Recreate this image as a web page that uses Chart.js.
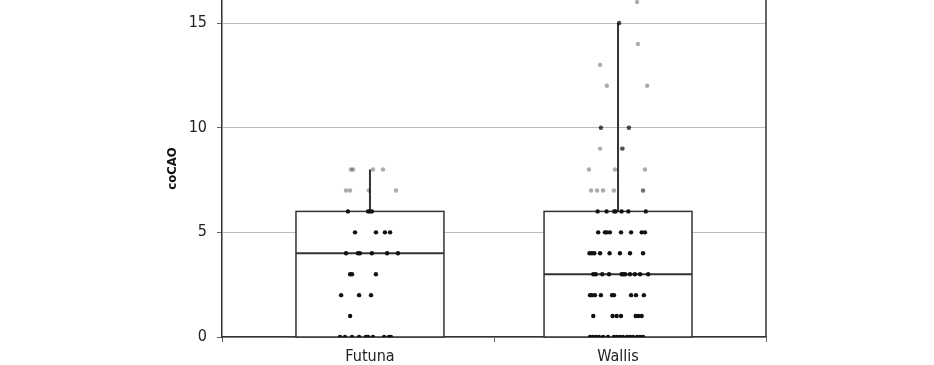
<!DOCTYPE html>
<html>
<head>
<meta charset="utf-8">
<script src="https://cdn.jsdelivr.net/npm/chart.js@4"></script>
<style>
  html, body { margin: 0; padding: 0; background: #fff; }
  #wrap { width: 934px; height: 365px; }
</style>
</head>
<body>
<div id="wrap"><canvas id="chart"></canvas></div>
<script>
// catégories et statistiques des boîtes
const categories = ['Futuna', 'Wallis'];
const catCenter = [0.544, 1.456];
const q1 = [0, 0];
const median = [4, 3];
const q3 = [6, 6];
const whiskerTop = [8, 15];
const yTicks = [0, 5, 10, 15];

// points individuels (valeur, position x avec dispersion)
const futunaY = [8, 8, 8, 8,
  7, 7, 7, 7,
  6, 6, 6, 6,
  5, 5, 5, 5,
  4, 4, 4, 4, 4, 4,
  3, 3, 3,
  2, 2, 2,
  1,
  0, 0, 0, 0, 0, 0, 0, 0, 0, 0];
const futunaX = [0.474, 0.482, 0.555, 0.592,
  0.456, 0.471, 0.540, 0.640,
  0.463, 0.537, 0.544, 0.551,
  0.489, 0.566, 0.599, 0.618,
  0.456, 0.500, 0.507, 0.551, 0.607, 0.647,
  0.471, 0.478, 0.566,
  0.438, 0.504, 0.548,
  0.471,
  0.434, 0.452, 0.478, 0.504, 0.529, 0.537, 0.555, 0.596, 0.614, 0.621];

const wallisY = [16, 15, 15, 15, 14, 13, 12, 12,
  10, 10, 10, 10, 10, 10,
  9, 9, 9, 9,
  8, 8, 8,
  7, 7, 7, 7, 7, 7,
  6, 6, 6, 6, 6, 6, 6,
  5, 5, 5, 5, 5, 5, 5, 5,
  4, 4, 4, 4, 4, 4, 4, 4,
  3, 3, 3, 3, 3, 3, 3, 3, 3, 3, 3,
  2, 2, 2, 2, 2, 2, 2, 2, 2,
  1, 1, 1, 1, 1, 1, 1,
  0, 0, 0, 0, 0, 0, 0, 0, 0, 0, 0, 0, 0, 0, 0, 0];
const wallisX = [1.526, 1.460, 1.460, 1.460, 1.529, 1.390, 1.415, 1.563,
  1.393, 1.393, 1.393, 1.496, 1.496, 1.496,
  1.390, 1.471, 1.471, 1.474,
  1.349, 1.445, 1.555,
  1.357, 1.379, 1.401, 1.441, 1.548, 1.548,
  1.381, 1.414, 1.442, 1.447, 1.469, 1.494, 1.558,
  1.383, 1.408, 1.414, 1.426, 1.467, 1.504, 1.543, 1.555,
  1.351, 1.360, 1.369, 1.390, 1.425, 1.463, 1.500, 1.548,
  1.365, 1.374, 1.398, 1.423, 1.469, 1.475, 1.482, 1.500, 1.518, 1.537, 1.567,
  1.353, 1.360, 1.371, 1.393, 1.434, 1.441, 1.504, 1.522, 1.551,
  1.365, 1.436, 1.451, 1.467, 1.521, 1.531, 1.543,
  1.353, 1.364, 1.375, 1.386, 1.401, 1.419, 1.441, 1.452, 1.463, 1.474, 1.489, 1.500, 1.511, 1.526, 1.537, 1.548];

const boxHalf = 0.272;
const fontFamily = "'Liberation Sans Narrow', 'DejaVu Sans Condensed', sans-serif";

// séparer les points dans la boîte (noirs) et hors boîte (gris)
const inner = [];
const outer = [];
[[futunaX, futunaY, 0], [wallisX, wallisY, 1]].forEach(([xs, ys, g]) => {
  ys.forEach((v, i) => {
    const p = { x: xs[i], y: v };
    if (v <= q3[g]) inner.push(p); else outer.push(p);
  });
});

// dessin des boîtes à moustaches
const boxPlugin = {
  id: 'boxes',
  beforeDatasetsDraw(chart) {
    const { ctx, chartArea, scales: { x, y } } = chart;
    ctx.save();
    // bordure droite
    ctx.strokeStyle = '#333';
    ctx.lineWidth = 1.5;
    ctx.beginPath();
    ctx.moveTo(chartArea.right, chartArea.top);
    ctx.lineTo(chartArea.right, chartArea.bottom);
    ctx.stroke();

    categories.forEach((c, i) => {
      const l = x.getPixelForValue(catCenter[i] - boxHalf);
      const r = x.getPixelForValue(catCenter[i] + boxHalf);
      const cx = x.getPixelForValue(catCenter[i]);
      const top = y.getPixelForValue(q3[i]);
      const bot = y.getPixelForValue(q1[i]);
      const med = y.getPixelForValue(median[i]);
      const wt = y.getPixelForValue(whiskerTop[i]);

      ctx.fillStyle = '#fff';
      ctx.fillRect(l, top, r - l, bot - top);
      ctx.strokeStyle = '#333';
      ctx.lineWidth = 1.5;
      ctx.strokeRect(l, top, r - l, bot - top);

      ctx.lineWidth = 2;
      ctx.beginPath();
      ctx.moveTo(l, med);
      ctx.lineTo(r, med);
      ctx.moveTo(cx, top);
      ctx.lineTo(cx, wt);
      ctx.stroke();
    });
    ctx.restore();
  }
};

const xTickValues = [0, catCenter[0], 1, catCenter[1], 2];
const xTickLabels = ['', categories[0], '', categories[1], ''];

new Chart(document.getElementById('chart'), {
  type: 'scatter',
  data: {
    datasets: [{
      data: inner,
      backgroundColor: '#111',
      pointRadius: 2.2,
      pointBorderWidth: 0
    }, {
      data: outer,
      backgroundColor: 'rgba(0, 0, 0, 0.33)',
      pointRadius: 2.2,
      pointBorderWidth: 0
    }]
  },
  options: {
    responsive: true,
    maintainAspectRatio: false,
    animation: false,
    layout: { autoPadding: false, padding: { left: 161, right: 168, top: 0, bottom: 0 } },
    plugins: {
      legend: { display: false },
      tooltip: { enabled: false }
    },
    scales: {
      x: {
        type: 'linear',
        min: 0,
        max: 2,
        afterBuildTicks: (scale) => {
          scale.ticks = xTickValues.map(v => ({ value: v }));
        },
        afterFit: (scale) => {
          scale.height = 28;
          scale.paddingLeft = 0;
          scale.paddingRight = 0;
        },
        ticks: {
          autoSkip: false,
          maxRotation: 0,
          padding: 5,
          color: '#222',
          font: { family: fontFamily, size: 16 },
          callback: (v, i) => xTickLabels[i]
        },
        grid: {
          drawOnChartArea: false,
          tickLength: 5,
          tickColor: (ctx) => (ctx.tick && catCenter.includes(ctx.tick.value)) ? 'rgba(0,0,0,0)' : '#666'
        },
        border: { color: '#333', width: 1.5 }
      },
      y: {
        min: 0,
        max: 16.1,
        afterBuildTicks: (scale) => {
          scale.ticks = yTicks.map(v => ({ value: v }));
        },
        afterFit: (scale) => {
          scale.width = 61;
          scale.paddingTop = 0;
          scale.paddingBottom = 0;
        },
        ticks: {
          padding: 10,
          color: '#222',
          font: { family: fontFamily, size: 16 }
        },
        grid: {
          color: '#bbb',
          tickLength: 5,
          tickColor: '#666'
        },
        border: { color: '#333', width: 1.5 },
        title: {
          display: true,
          text: 'coCAO',
          color: '#111',
          font: { family: fontFamily, size: 13, weight: 'bold' }
        }
      }
    }
  },
  plugins: [boxPlugin]
});
</script>
</body>
</html>
